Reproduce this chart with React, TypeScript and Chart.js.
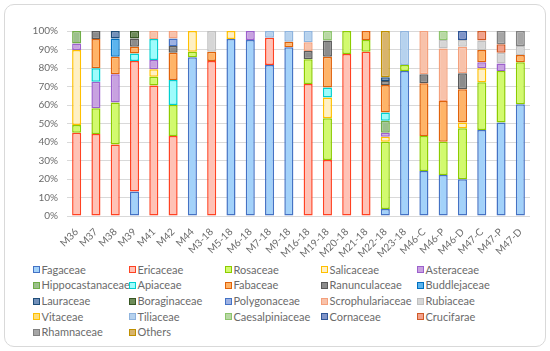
import React, { useEffect, useRef } from "react";
import { Chart, registerables } from "chart.js";

Chart.register(...registerables);

const categories = ["M36", "M37", "M38", "M39", "M41", "M42", "M44", "M3-18", "M5-18", "M6-18", "M7-18", "M9-18", "M16-18", "M19-18", "M20-18", "M21-18", "M22-18", "M23-18", "M46-C", "M46-P", "M46-D", "M47-C", "M47-P", "M47-D"];
const yTicks = [0, 10, 20, 30, 40, 50, 60, 70, 80, 90, 100];

const _ = null;
//                M36  M37  M38  M39  M41  M42  M44  M3   M5   M6   M7   M9   M16  M19  M20  M21  M22  M23  46C  46P  46D  47C  47P  47D
const fagaceae =        [_, _, _, 13.2, _, _, 85.8, _, 95.7, 95.1, 81.6, 91.2, _, _, _, _, 3.8, 78.4, 24.3, 22.2, 19.8, 46.5, 50.5, 60.4];
const ericaceae =       [45, 44.3, 38.7, 70.6, 70.5, 43.2, _, 83.8, _, _, 14.8, _, 71.4, 30.3, 87.6, 88.8, _, _, _, _, _, _, _, _];
const rosaceae =        [4.2, 13.9, 22.6, _, 4.8, 16.8, 3, _, _, _, _, _, 13.3, 22.5, 12.4, 6.3, 36.4, 3.2, 18.9, 18, 27.6, 25.8, 27.9, 22.7];
const salicaceae =      [40.5, _, _, _, 4, _, 11.2, _, 4.3, _, _, _, _, 11.3, _, _, 2.7, _, _, _, 3.2, 7.5, _, _];
const asteraceae =      [3.6, 14.4, 15.3, _, 5, _, _, _, _, 4.9, _, _, _, _, _, _, 2.1, _, _, _, _, 3.3, 4.1, _];
const hippocastanaceae = [6.7, _, _, _, _, _, _, _, _, _, _, _, _, _, _, _, 6.5, _, _, _, _, _, _, _];
const apiaceae =        [_, 7.2, _, 4.1, 11.4, 13.5, _, _, _, _, _, _, _, 5.4, _, _, 4.5, _, _, _, _, _, _, _];
const fabaceae =        [_, 15.9, 9.5, 3.6, _, 14.8, _, 5, _, _, _, 3, _, 16.6, _, 4.9, 14.8, _, 28.5, 22, 17.9, 6.6, _, 3.9];
const ranunculaceae =   [_, 4.3, _, 4.5, _, 3.6, _, _, _, _, _, _, 4.5, 8.7, _, _, 2.2, _, 4.9, _, 8.6, _, _, _];
const buddlejaceae =    [_, _, 9.9, _, _, _, _, _, _, _, _, _, _, _, _, _, _, _, _, _, _, _, _, _];
const lauraceae =       [_, _, 4, _, _, _, _, _, _, _, _, _, _, _, _, _, 2, _, _, _, _, _, _, _];
const boraginaceae =    [_, _, _, 4, _, _, _, _, _, _, _, _, _, _, _, _, _, _, _, _, _, _, _, _];
const polygonaceae =    [_, _, _, _, _, 4.1, _, _, _, _, _, _, _, _, _, _, _, _, _, _, _, _, _, _];
const scrophulariaceae = [_, _, _, _, 4.3, 4, _, _, _, _, _, _, 4.7, _, _, _, _, _, 23.4, 28.4, 14.4, _, _, _];
const rubiaceae =       [_, _, _, _, _, _, _, 11.2, _, _, _, _, _, _, _, _, _, _, _, 4.5, 3.6, 5.1, 5.8, 4.9];
const vitaceae =        [_, _, _, _, _, _, _, _, _, _, _, _, _, _, _, _, _, _, _, _, _, _, _, _];
const tiliaceae =       [_, _, _, _, _, _, _, _, _, _, 3.6, 5.8, 6.1, _, _, _, _, 18.4, _, _, _, _, _, _];
const caesalpiniaceae = [_, _, _, _, _, _, _, _, _, _, _, _, _, 5.2, _, _, _, _, _, 4.9, _, _, _, _];
const cornaceae =       [_, _, _, _, _, _, _, _, _, _, _, _, _, _, _, _, _, _, _, _, 4.9, _, _, _];
const crucifarae =      [_, _, _, _, _, _, _, _, _, _, _, _, _, _, _, _, _, _, _, _, _, 5.2, 4.5, _];
const rhamnaceae =      [_, _, _, _, _, _, _, _, _, _, _, _, _, _, _, _, _, _, _, _, _, _, 7.2, 8.1];
const others =          [_, _, _, _, _, _, _, _, _, _, _, _, _, _, _, _, 25, _, _, _, _, _, _, _];

const seriesNames = ["Fagaceae", "Ericaceae", "Rosaceae", "Salicaceae", "Asteraceae", "Hippocastanaceae", "Apiaceae", "Fabaceae", "Ranunculaceae", "Buddlejaceae", "Lauraceae", "Boraginaceae", "Polygonaceae", "Scrophulariaceae", "Rubiaceae", "Vitaceae", "Tiliaceae", "Caesalpiniaceae", "Cornaceae", "Crucifarae", "Rhamnaceae", "Others"];
const seriesData = [fagaceae, ericaceae, rosaceae, salicaceae, asteraceae, hippocastanaceae, apiaceae, fabaceae, ranunculaceae, buddlejaceae, lauraceae, boraginaceae, polygonaceae, scrophulariaceae, rubiaceae, vitaceae, tiliaceae, caesalpiniaceae, cornaceae, crucifarae, rhamnaceae, others];
const fills = ["#A3D2FA", "#FFC2B6", "#D2FA6E", "#FFF0C4", "#C8A2E0", "#9CC08C", "#9EFCFC", "#FFB468", "#8C8C8C", "#5CB4EE", "#7290BA", "#6E8C5A", "#9EB2E4", "#F8C2AA", "#D6D6D6", "#FFDE78", "#B6D2EE", "#B8D8A4", "#8094C8", "#F2A28C", "#A6A6A6", "#D8B46C"];
const borders = ["#4472C4", "#FF4222", "#8CCC00", "#FFC000", "#9C60CC", "#70AD47", "#00D0D0", "#E0620A", "#595959", "#0070C0", "#1F4E79", "#375623", "#4472C4", "#F4A07C", "#BFBFBF", "#FFC000", "#8FB4DE", "#8CC46C", "#2F5597", "#D05A28", "#808080", "#BF9000"];

const CANVAS_H = 262;
const PLOT_LEFT = 67;
const PLOT_BOTTOM = 216;

export default function App() {
  const ref = useRef<HTMLCanvasElement>(null);
  useEffect(() => {
    const chart = new Chart(ref.current!, {
      type: "bar",
      data: {
        labels: categories,
        datasets: seriesNames.map((name, i) => ({
          label: name,
          data: seriesData[i],
          backgroundColor: fills[i],
          borderColor: borders[i],
          borderWidth: 1.5,
          borderSkipped: false,
          barPercentage: 0.47,
          categoryPercentage: 1,
        })),
      },
      options: {
        animation: false,
        responsive: false,
        maintainAspectRatio: false,
        layout: { padding: { top: 31, right: 20, left: 0, bottom: 0 } },
        plugins: { legend: { display: false }, tooltip: { enabled: false } },
        scales: {
          x: {
            stacked: true,
            grid: { display: false },
            border: { display: false },
            ticks: {
              minRotation: 45,
              maxRotation: 45,
              autoSkip: false,
              padding: 2,
              color: "#6b6b6b",
              font: { family: "Lato", size: 10 },
            },
            afterFit: (s: any) => { s.height = CANVAS_H - PLOT_BOTTOM; },
          },
          y: {
            stacked: true,
            min: 0,
            max: 100,
            afterBuildTicks: (s: any) => { s.ticks = yTicks.map((v) => ({ value: v })); },
            grid: { color: "#D9D9D9", drawTicks: false, lineWidth: 1 },
            border: { display: false },
            ticks: {
              padding: 9,
              color: "#6b6b6b",
              font: { family: "Lato", size: 10 },
              callback: (v: any) => v + "%",
            },
            afterFit: (s: any) => { s.width = PLOT_LEFT; },
          },
        },
      },
    });
    return () => chart.destroy();
  }, []);

  const colX = [33, 129, 225, 321, 417];
  const rowY = [269.5, 285.3, 301, 316.7, 332.4];

  return (
    <div style={{ position: "fixed", left: 0, top: 0, width: 550, height: 351, background: "#fff", fontFamily: "Lato" }}>
      <div style={{ position: "absolute", left: 4, top: 4, width: 540, height: 341, border: "1px solid #D9D9D9", borderRadius: 10 }} />
      <canvas ref={ref} width={550} height={CANVAS_H} style={{ position: "absolute", left: 0, top: 0, width: 550, height: CANVAS_H }} />
      {seriesNames.map((name, i) => {
        const c = i % 5;
        const r = Math.floor(i / 5);
        return (
          <div key={name} style={{ position: "absolute", left: colX[c], top: rowY[r] - 7, height: 14, display: "flex", alignItems: "center", whiteSpace: "nowrap" }}>
            <span style={{ display: "inline-block", width: 5, height: 5, border: `1px solid ${borders[i]}`, background: fills[i], marginRight: 1.5 }} />
            <span style={{ fontSize: 11, color: "#6b6b6b", lineHeight: "14px" }}>{name}</span>
          </div>
        );
      })}
    </div>
  );
}
